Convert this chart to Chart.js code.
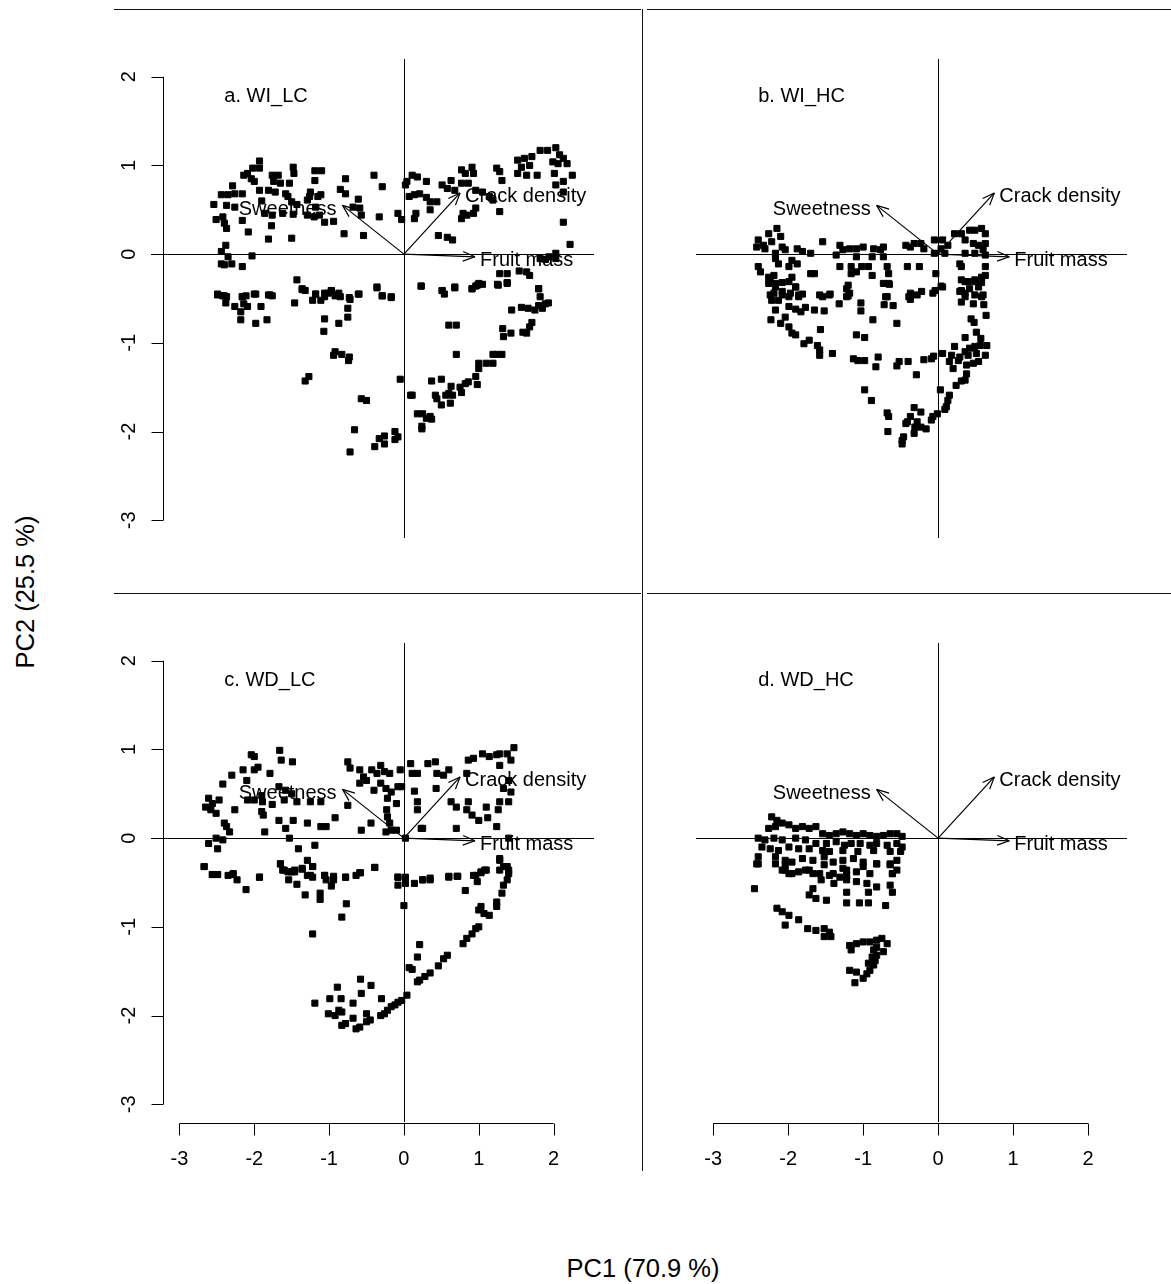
<!DOCTYPE html>
<html>
<head>
<meta charset="utf-8">
<script src="https://cdn.jsdelivr.net/npm/chart.js@4.4.1/dist/chart.umd.min.js"></script>
<style>
  body { margin: 0; background: #fff; width: 1171px; height: 1284px; position: relative; overflow: hidden;
         font-family: "Liberation Sans", Arial, sans-serif; }
  .panel { position: absolute; }
  .rule { position: absolute; background: #111; }
  .title { position: absolute; font-size: 25.5px; color: #000; white-space: nowrap; }
</style>
</head>
<body>

<!-- frame lines between the four panels -->
<div class="rule" style="left:114px;top:9px;width:527px;height:1px"></div>
<div class="rule" style="left:647px;top:9px;width:524px;height:1px"></div>
<div class="rule" style="left:642px;top:9px;width:1px;height:1162px"></div>
<div class="rule" style="left:114px;top:593px;width:527px;height:1px"></div>
<div class="rule" style="left:647px;top:593px;width:524px;height:1px"></div>

<div class="panel" style="left:100px;top:10px"><canvas id="pa" width="540" height="580"></canvas></div>
<div class="panel" style="left:645px;top:10px"><canvas id="pb" width="526" height="580"></canvas></div>
<div class="panel" style="left:100px;top:594px"><canvas id="pc" width="540" height="590"></canvas></div>
<div class="panel" style="left:645px;top:594px"><canvas id="pd" width="526" height="590"></canvas></div>

<div class="title" style="left:643px;top:1268px;transform:translate(-50%,-50%)">PC1 (70.9 %)</div>
<div class="title" style="left:25px;top:592px;transform:translate(-50%,-50%) rotate(-90deg)">PC2 (25.5 %)</div>

<script>
// tick labels
const xTicks = [-3, -2, -1, 0, 1, 2];
const yTicks = [-3, -2, -1, 0, 1, 2];

// variable loadings (arrows)
const variables = ['Sweetness', 'Crack density', 'Fruit mass'];
const loadPC1 = [-0.82, 0.75, 0.95];
const loadPC2 = [0.55, 0.69, -0.03];

// panel names
const panelNames = ['a. WI_LC', 'b. WI_HC', 'c. WD_LC', 'd. WD_HC'];

// scores [PC1, PC2]
const wiLc = [
  [-1.93,1.05],[-1.93,0.97],[-2.02,0.97],[-2.14,0.89],[-2.09,0.91],[-2.00,0.82],[-2.04,0.85],[-1.48,0.98],
  [-1.47,0.91],[-1.19,0.94],[-1.10,0.94],[-1.19,0.83],[-1.76,0.89],[-1.68,0.89],[-1.74,0.82],[-1.65,0.80],
  [-1.53,0.80],[-0.78,0.85],[-0.40,0.89],[-0.29,0.76],[-2.29,0.77],[-2.44,0.67],[-2.35,0.67],[-2.26,0.68],
  [-2.16,0.68],[-1.93,0.72],[-1.81,0.72],[-1.72,0.70],[-1.58,0.68],[-1.55,0.65],[-1.25,0.70],[-1.15,0.65],
  [-1.26,0.65],[-1.11,0.67],[-0.85,0.73],[-0.78,0.68],[-0.61,0.62],[-2.54,0.56],[-2.37,0.55],[-2.26,0.53],
  [-1.90,0.60],[-1.50,0.59],[-1.43,0.56],[-1.29,0.61],[-1.18,0.53],[-0.68,0.53],[-0.59,0.52],[-0.57,0.44],
  [-1.86,0.46],[-1.76,0.44],[-1.62,0.46],[-1.48,0.45],[-1.29,0.44],[-1.20,0.42],[-1.13,0.44],[-2.51,0.39],
  [-2.42,0.42],[-2.40,0.35],[-2.37,0.29],[-2.16,0.38],[-1.06,0.36],[-0.94,0.37],[-1.77,0.32],[-0.33,0.42],
  [-0.08,0.46],[-0.03,0.39],[-2.08,0.25],[-1.81,0.17],[-1.50,0.18],[-0.80,0.23],[-0.54,0.21],[0.46,0.21],
  [0.58,0.19],[0.65,0.16],[-2.38,0.10],[-2.44,0.03],[-2.35,-0.03],[-2.44,-0.11],[-2.40,-0.12],[-2.30,-0.11],
  [-2.16,-0.14],[-2.03,-0.02],
  [0.04,0.82],[0.11,0.89],[0.18,0.87],[0.30,0.82],[0.07,0.65],[0.14,0.67],[0.21,0.68],[0.30,0.64],
  [0.35,0.59],[0.44,0.59],[0.35,0.50],[0.16,0.46],[0.14,0.40],[0.02,0.78],[0.51,0.78],[0.63,0.83],
  [0.58,0.74],[0.68,0.72],[0.77,0.95],[0.82,0.91],[0.91,0.98],[0.93,0.91],[0.77,0.80],[0.86,0.80],
  [0.96,0.72],[1.05,0.70],[1.14,0.65],[1.19,0.61],[0.79,0.46],[0.77,0.40],[0.84,0.44],[0.96,0.52],
  [0.93,0.46],[1.28,0.48],[1.24,0.97],[1.28,0.93],[1.31,0.83],[1.52,1.06],[1.61,1.08],[1.71,1.10],
  [1.82,1.17],[1.92,1.17],[2.03,1.20],[2.08,1.12],[2.13,1.08],[2.18,1.02],[1.99,1.04],[2.06,1.02],
  [1.68,1.00],[1.57,0.98],[1.52,0.91],[1.64,0.89],[1.78,0.89],[2.01,0.91],[2.25,0.89],[2.13,0.82],
  [2.03,0.78],[2.13,0.70],[2.13,0.36],[2.22,0.11],[2.03,0.01],[1.94,-0.03],[1.89,-0.06],[1.82,-0.05],
  [2.03,-0.05],[1.28,-0.22],[1.38,-0.22],[1.54,-0.19],[1.64,-0.20],[1.68,-0.24],[1.80,-0.39],[1.00,-0.33],
  [0.96,-0.36],[0.91,-0.39],[1.26,-0.35],[1.38,-0.33],[0.68,-0.37],[0.51,-0.41],[0.23,-0.36],
  [-2.49,-0.45],[-2.40,-0.47],[-2.16,-0.48],[-2.00,-0.45],[-1.79,-0.46],[-1.43,-0.29],[-1.36,-0.39],[-1.18,-0.45],
  [-1.06,-0.44],[-0.97,-0.41],[-0.87,-0.44],[-0.73,-0.49],[-0.61,-0.45],[-0.36,-0.37],[-0.29,-0.47],[-0.17,-0.48],
  [-2.49,-0.46],[-2.42,-0.47],[-2.37,-0.48],[-2.38,-0.55],[-2.26,-0.59],[-2.18,-0.65],[-2.16,-0.48],[-2.11,-0.47],
  [-2.14,-0.56],[-2.09,-0.59],[-2.18,-0.74],[-1.98,-0.45],[-1.98,-0.78],[-1.91,-0.59],[-1.83,-0.74],[-1.81,-0.46],
  [-1.76,-0.47],[-1.46,-0.55],[-1.36,-0.40],[-1.32,-0.41],[-1.22,-0.52],[-1.18,-0.45],[-1.11,-0.52],[-1.06,-0.48],
  [-1.01,-0.44],[-0.97,-0.41],[-0.92,-0.47],[-0.85,-0.48],[-1.06,-0.73],[-1.07,-0.87],[-0.87,-0.78],[-0.75,-0.61],
  [-0.75,-0.71],[-0.72,-0.51],[-0.60,-0.45],[-0.36,-0.38],[-0.29,-0.47],[-0.17,-0.49],[0.23,-0.36],[0.51,-0.41],
  [0.54,-0.45],[0.68,-0.38],[0.91,-0.39],[0.98,-0.35],[1.05,-0.34],[1.25,-0.34],[1.38,-0.32],[1.80,-0.39],
  [1.82,-0.48],[1.80,-0.58],[1.89,-0.56],[1.93,-0.55],[1.85,-0.61],[1.75,-0.63],[1.66,-0.61],[1.57,-0.60],
  [1.44,-0.63],[1.32,-0.84],[1.33,-0.93],[1.43,-0.89],[1.59,-0.88],[1.64,-0.89],[1.68,-0.82],[1.71,-0.77],
  [0.60,-0.80],[0.70,-0.80],[0.70,-1.13],[1.19,-1.13],[1.24,-1.13],[1.31,-1.13],[1.00,-1.23],[1.00,-1.29],
  [1.10,-1.23],[1.19,-1.23],[0.96,-1.38],[0.86,-1.44],[0.82,-1.46],[0.98,-1.47],[0.75,-1.50],[0.77,-1.56],
  [0.63,-1.49],[0.60,-1.57],[0.65,-1.59],[0.56,-1.59],[0.62,-1.68],[0.50,-1.70],[0.42,-1.59],[0.44,-1.63],
  [0.37,-1.43],[0.50,-1.41],[0.09,-1.59],[0.11,-1.59],[-0.05,-1.41],[-0.94,-1.14],[-0.92,-1.10],[-0.83,-1.13],
  [-0.73,-1.16],[-0.74,-1.20],[-1.32,-1.43],[-1.27,-1.38],[-0.57,-1.63],[-0.50,-1.65],[0.18,-1.80],[0.25,-1.80],
  [0.35,-1.83],[0.37,-1.86],[0.30,-1.85],[0.24,-1.94],[0.24,-1.97],[-0.12,-2.00],[-0.08,-2.06],[-0.12,-2.09],
  [-0.26,-2.05],[-0.33,-2.08],[-0.26,-2.14],[-0.39,-2.17],[-0.66,-1.98],[-0.72,-2.23]
];

const wiHc = [
  [-2.15,0.29],[-2.26,0.23],[-2.40,0.16],[-2.33,0.10],[-2.22,0.14],[-2.10,0.20],[-2.08,0.08],[-2.04,0.05],
  [-2.17,0.01],[-2.31,0.06],[-2.42,0.08],[-1.88,0.06],[-1.81,0.03],[-1.70,0.01],[-1.54,0.14],[-2.17,-0.05],
  [-2.13,-0.11],[-1.95,-0.07],[-1.88,-0.11],[-2.40,-0.14],[-2.37,-0.20],[-2.26,-0.26],[-2.19,-0.24],[-1.99,-0.14],
  [-1.95,-0.26],[-2.26,-0.33],[-2.17,-0.37],[-2.08,-0.42],[-1.90,-0.37],[-2.24,-0.46],[-1.97,-0.44],[-1.86,-0.48],
  [-1.70,-0.22],[-1.65,-0.22],[-1.58,-0.46],[-1.45,-0.46],[-1.31,0.10],[-1.27,0.05],[-1.18,0.06],[-1.09,0.06],
  [-1.00,0.08],[-0.86,0.06],[-0.77,0.05],[-0.73,0.08],[-1.36,-0.01],[-1.09,-0.03],[-0.88,-0.03],[-0.73,-0.03],
  [-1.31,-0.14],[-1.16,-0.14],[-1.02,-0.14],[-0.93,-0.14],[-0.68,-0.14],[-1.16,-0.22],[-1.09,-0.20],[-0.88,-0.24],
  [-0.66,-0.22],[-0.66,-0.33],[-1.20,-0.35],[-1.18,-0.44],[-1.22,-0.48],[-0.68,-0.48],[-0.41,-0.14],[-0.25,-0.14],
  [-0.37,-0.48],[-0.28,-0.46],[-0.07,-0.44],[0.04,-0.36],[-0.43,0.10],[-0.37,0.08],[-0.32,0.12],[-0.23,0.12],
  [-0.19,0.06],[-0.05,0.16],[0.06,0.16],[0.13,0.10],[0.04,0.06],[-0.05,0.01],[0.22,0.23],[0.31,0.23],
  [0.36,0.16],[0.42,0.27],[0.49,0.27],[0.58,0.29],[0.63,0.23],[0.47,0.12],[0.54,0.10],[0.63,0.12],
  [0.60,0.05],[0.36,0.01],[0.49,0.01],[0.63,-0.01],[-0.03,-0.22],[0.09,0.01],[0.29,-0.11],[0.31,-0.14],
  [0.63,-0.14],[0.31,-0.29],[0.40,-0.31],[0.49,-0.29],[0.58,-0.26],[0.63,-0.24],[0.31,-0.41],[0.42,-0.39],
  [0.54,-0.37],[0.60,-0.46],[0.36,-0.48],
  [-2.24,-0.31],[-2.17,-0.33],[-2.08,-0.32],[-1.99,-0.31],[-1.90,-0.37],[-1.81,-0.45],[-1.86,-0.46],[-2.19,-0.44],
  [-2.08,-0.46],[-1.99,-0.48],[-2.22,-0.52],[-2.13,-0.52],[-1.54,-0.48],[-1.44,-0.45],[-1.22,-0.39],[-1.20,-0.47],
  [-1.32,-0.56],[-1.03,-0.55],[-1.03,-0.64],[-0.73,-0.33],[-0.65,-0.34],[-0.70,-0.48],[-0.72,-0.57],[-0.60,-0.58],
  [-0.37,-0.44],[-0.39,-0.48],[-0.37,-0.51],[-0.22,-0.42],[-0.04,-0.41],[0.06,-0.37],[0.36,-0.31],[0.49,-0.31],
  [0.58,-0.32],[0.29,-0.42],[0.36,-0.44],[0.49,-0.46],[0.58,-0.48],[0.31,-0.54],[0.47,-0.56],[0.61,-0.57],
  [0.64,-0.69],[0.44,-0.73],[0.48,-0.77],[0.51,-0.88],[0.36,-0.94],[0.57,-0.95],[-2.17,-0.63],[-1.99,-0.59],
  [-1.90,-0.62],[-1.83,-0.65],[-1.77,-0.60],[-1.65,-0.63],[-1.52,-0.64],[-2.23,-0.74],[-2.10,-0.78],[-2.04,-0.71],
  [-1.99,-0.82],[-1.95,-0.89],[-1.90,-0.91],[-1.79,-1.01],[-1.72,-0.97],[-1.61,-1.03],[-1.58,-1.08],[-1.58,-1.14],
  [-1.41,-1.12],[-1.57,-0.85],[-1.09,-0.91],[-0.98,-0.94],[-0.87,-0.74],[-0.55,-0.78],[-1.13,-1.18],[-1.07,-1.20],
  [-0.98,-1.20],[-0.80,-1.16],[-0.83,-1.27],[-0.55,-1.26],[-0.52,-1.21],[-0.40,-1.21],[-0.29,-1.36],[-0.19,-1.19],
  [-0.09,-1.18],[-0.06,-1.15],[0.06,-1.12],[0.22,-1.04],[0.36,-1.10],[0.42,-1.06],[0.49,-1.04],[0.56,-1.03],
  [0.65,-1.03],[0.18,-1.14],[0.29,-1.16],[0.40,-1.14],[0.51,-1.12],[0.63,-1.14],[0.15,-1.21],[0.27,-1.20],
  [0.20,-1.29],[0.38,-1.25],[0.47,-1.23],[0.54,-1.21],[0.38,-1.35],[0.36,-1.42],[0.31,-1.43],[0.24,-1.48],
  [0.03,-1.53],[0.15,-1.59],[0.13,-1.65],[0.11,-1.72],[0.09,-1.75],[-0.01,-1.80],[-0.09,-1.87],[-0.07,-1.83],
  [-0.16,-1.97],[-0.23,-1.78],[-0.32,-1.73],[-0.37,-1.83],[-0.41,-1.89],[-0.43,-1.91],[-0.28,-1.89],[-0.31,-1.95],
  [-0.23,-1.95],[-0.32,-2.02],[-0.46,-2.06],[-0.48,-2.14],[-0.48,-2.10],[-0.66,-1.83],[-0.68,-1.79],[-0.67,-2.00],
  [-0.98,-1.53],[-0.89,-1.65]
];

const wdLc = [
  [-2.04,0.94],[-2.00,0.92],[-1.66,0.99],[-1.64,0.88],[-1.49,0.86],[-2.15,0.77],[-2.10,0.65],[-2.00,0.77],
  [-1.95,0.80],[-1.79,0.73],[-2.30,0.71],[-2.42,0.61],[-1.67,0.58],[-1.58,0.54],[-1.50,0.50],[-1.90,0.48],
  [-2.09,0.43],[-2.00,0.43],[-1.89,0.41],[-1.76,0.38],[-1.60,0.43],[-1.43,0.41],[-1.25,0.41],[-1.11,0.41],
  [-2.61,0.45],[-2.56,0.39],[-2.65,0.35],[-2.58,0.32],[-2.51,0.28],[-2.47,0.43],[-2.26,0.32],[-1.90,0.30],
  [-1.88,0.26],[-1.67,0.20],[-1.48,0.20],[-1.29,0.17],[-1.11,0.13],[-1.04,0.13],[-0.92,0.23],[-0.75,0.37],
  [-2.40,0.17],[-2.37,0.13],[-2.33,0.07],[-1.86,0.07],[-1.58,0.11],[-2.61,-0.06],[-2.51,0.00],[-2.42,-0.02],
  [-2.49,-0.12],[-1.53,0.00],[-1.41,-0.12],[-1.19,-0.08],[-1.29,-0.25],[-1.22,-0.32],[-1.65,-0.29],[-1.62,-0.36],
  [-1.55,-0.38],[-1.46,-0.36],[-1.36,-0.34],[-2.67,-0.32],[-2.56,-0.41],[-2.49,-0.41],[-2.29,-0.41],[-1.93,-0.44],
  [-1.25,-0.42],[-1.06,-0.42],[-0.94,-0.43],[-0.78,-0.44],[-0.59,-0.39],[-0.39,-0.33],
  [-0.75,0.86],[-0.72,0.79],[-0.59,0.77],[-0.54,0.69],[-0.50,0.65],[-0.43,0.77],[-0.36,0.73],[-0.31,0.82],
  [-0.26,0.75],[-0.19,0.73],[-0.59,0.62],[-0.40,0.54],[-0.31,0.62],[-0.24,0.56],[-0.17,0.52],[-0.08,0.58],
  [-0.03,0.58],[-0.22,0.45],[-0.10,0.39],[-0.23,0.32],[-0.22,0.24],[-0.19,0.17],[-0.24,0.07],[-0.57,0.09],
  [-0.44,0.17],[-0.17,0.09],[-0.10,0.09],[-0.05,0.77],[0.09,0.84],[0.11,0.73],[0.18,0.73],[0.32,0.84],
  [0.42,0.86],[0.44,0.73],[0.53,0.71],[0.60,0.77],[0.43,0.56],[0.14,0.53],[0.18,0.41],[0.18,0.32],
  [0.23,0.11],[0.25,0.11],[0.63,0.41],[0.70,0.35],[0.70,0.11],[0.86,0.41],[0.84,0.32],[0.91,0.26],
  [1.00,0.20],[1.12,0.23],[1.24,0.13],[1.10,0.35],[1.26,0.32],[1.28,0.41],[0.84,0.73],[0.86,0.88],
  [0.93,0.90],[1.05,0.95],[1.14,0.92],[1.24,0.94],[1.28,0.95],[1.38,0.95],[1.47,1.02],[1.43,0.88],
  [1.28,0.82],[1.40,0.65],[1.33,0.56],[1.43,0.52],[1.40,0.41],[1.40,0.00],[1.28,-0.23],[1.33,-0.32],
  [1.40,-0.36],[1.10,-0.36],[1.03,-0.39],[0.96,-0.42],[0.72,-0.43],[0.60,-0.43],[0.35,-0.45],[0.25,-0.47],
  [0.02,-0.44],[-0.08,-0.44],[0.02,0.00],
  [-2.67,-0.32],[-2.56,-0.41],[-2.49,-0.41],[-2.35,-0.42],[-2.28,-0.40],[-2.23,-0.47],[-2.11,-0.58],[-1.93,-0.44],
  [-1.65,-0.29],[-1.60,-0.36],[-1.50,-0.38],[-1.46,-0.38],[-1.36,-0.35],[-1.29,-0.42],[-1.22,-0.32],[-1.22,-0.44],
  [-1.54,-0.47],[-1.43,-0.52],[-1.32,-0.64],[-1.12,-0.62],[-1.12,-0.69],[-1.06,-0.42],[-1.04,-0.47],[-0.94,-0.47],
  [-0.97,-0.54],[-0.78,-0.44],[-0.64,-0.42],[-0.58,-0.39],[-0.39,-0.33],[-0.77,-0.74],[-0.83,-0.89],[-1.22,-1.08],
  [-0.08,-0.44],[-0.08,-0.53],[0.02,-0.51],[0.14,-0.51],[0.25,-0.47],[0.35,-0.47],[0.60,-0.44],[0.71,-0.43],
  [0.82,-0.59],[0.93,-0.42],[0.98,-0.49],[1.03,-0.38],[1.08,-0.36],[1.28,-0.36],[1.28,-0.25],[1.38,-0.32],
  [1.40,-0.40],[1.38,-0.47],[1.33,-0.53],[1.31,-0.62],[1.24,-0.72],[1.24,-0.77],[1.14,-0.87],[1.07,-0.85],
  [1.00,-0.81],[1.03,-0.77],[1.00,-1.00],[0.96,-1.02],[0.91,-1.08],[0.84,-1.13],[0.79,-1.19],[0.58,-1.32],
  [0.53,-1.36],[0.46,-1.44],[0.35,-1.52],[0.28,-1.56],[0.21,-1.60],[0.18,-1.62],[0.07,-1.46],[0.11,-1.48],
  [0.18,-1.34],[0.21,-1.20],[0.00,-0.76],[0.04,-1.77],[-0.03,-1.83],[-0.08,-1.85],[-0.12,-1.88],[-0.17,-1.90],
  [-0.22,-1.94],[-0.26,-1.98],[-0.31,-2.00],[-0.45,-2.05],[-0.50,-2.07],[-0.59,-2.13],[-0.64,-2.15],[-0.50,-1.98],
  [-0.68,-2.03],[-0.78,-2.09],[-0.83,-2.11],[-0.92,-2.00],[-1.01,-1.98],[-0.87,-1.94],[-0.83,-1.96],[-0.68,-1.86],
  [-0.57,-1.75],[-0.58,-1.59],[-0.44,-1.66],[-0.30,-1.81],[-0.89,-1.68],[-0.84,-1.81],[-0.99,-1.81],[-1.19,-1.86]
];

const wdHc = [
  [-2.22,0.24],[-2.15,0.20],[-2.08,0.17],[-2.26,0.11],[-2.17,0.13],[-1.99,0.15],[-1.90,0.11],[-1.81,0.13],
  [-1.72,0.11],[-1.63,0.13],[-1.54,0.05],[-1.45,0.03],[-1.36,0.05],[-1.27,0.07],[-1.18,0.05],[-1.09,0.03],
  [-1.00,0.05],[-0.91,0.03],[-0.82,0.02],[-0.73,0.03],[-0.64,0.05],[-0.55,0.05],[-0.48,0.02],[-2.40,0.00],
  [-2.31,-0.02],[-2.19,0.00],[-2.08,-0.02],[-1.90,0.00],[-1.77,-0.02],[-1.63,-0.06],[-1.49,-0.06],[-1.36,-0.04],
  [-1.25,-0.08],[-1.16,-0.06],[-1.04,-0.06],[-0.91,-0.08],[-0.82,-0.06],[-0.68,-0.08],[-0.55,-0.06],[-0.48,-0.10],
  [-2.35,-0.10],[-2.24,-0.12],[-2.13,-0.14],[-1.99,-0.10],[-1.86,-0.12],[-1.72,-0.12],[-1.54,-0.14],[-1.45,-0.15],
  [-1.27,-0.14],[-1.07,-0.15],[-0.86,-0.14],[-0.64,-0.15],[-0.50,-0.15],[-2.40,-0.21],[-2.42,-0.29],[-2.17,-0.21],
  [-2.04,-0.25],[-1.95,-0.27],[-1.81,-0.23],[-1.67,-0.25],[-1.52,-0.21],[-1.40,-0.27],[-1.27,-0.25],[-1.13,-0.23],
  [-1.00,-0.27],[-0.82,-0.29],[-0.64,-0.29],[-0.55,-0.25],[-2.08,-0.36],[-1.99,-0.40],[-1.86,-0.38],[-1.72,-0.36],
  [-1.58,-0.40],[-1.45,-0.42],[-1.22,-0.36],[-1.09,-0.38],[-0.91,-0.40],[-0.61,-0.40],[-0.55,-0.36],[-1.31,-0.44],
  [-2.04,-0.30],
  [-2.40,-0.29],[-2.17,-0.29],[-2.04,-0.36],[-1.95,-0.40],[-1.77,-0.36],[-1.67,-0.40],[-1.52,-0.30],[-1.40,-0.40],
  [-1.27,-0.34],[-1.22,-0.42],[-1.00,-0.32],[-0.82,-0.29],[-0.64,-0.30],[-0.61,-0.40],[-1.56,-0.47],[-1.39,-0.51],
  [-1.22,-0.47],[-1.09,-0.49],[-0.95,-0.51],[-0.82,-0.55],[-0.64,-0.53],[-0.61,-0.61],[-2.45,-0.57],[-1.67,-0.57],
  [-1.72,-0.64],[-1.63,-0.68],[-1.49,-0.70],[-1.22,-0.61],[-1.22,-0.73],[-1.05,-0.73],[-0.93,-0.73],[-0.93,-0.61],
  [-0.70,-0.76],[-2.15,-0.79],[-2.08,-0.83],[-1.99,-0.87],[-2.04,-0.98],[-1.86,-0.92],[-1.74,-1.02],[-1.63,-1.04],
  [-1.52,-1.02],[-1.45,-1.06],[-1.43,-1.11],[-1.52,-1.11],[-1.18,-1.21],[-1.16,-1.26],[-1.09,-1.19],[-1.00,-1.17],
  [-0.91,-1.17],[-0.82,-1.15],[-0.75,-1.13],[-0.68,-1.19],[-0.73,-1.28],[-0.82,-1.32],[-0.84,-1.38],[-0.86,-1.43],
  [-0.91,-1.49],[-0.95,-1.53],[-1.00,-1.58],[-1.09,-1.51],[-1.18,-1.49],[-1.11,-1.63],[-0.82,-1.23],[-0.86,-1.26],
  [-0.88,-1.34],[-0.93,-1.41]
];

const FONT = '20px "Liberation Sans", Arial, sans-serif';

function seg(ctx, x0, y0, x1, y1) {
  ctx.beginPath();
  ctx.moveTo(x0, y0);
  ctx.lineTo(x1, y1);
  ctx.stroke();
}

const biplot = {
  id: 'biplot',
  beforeDatasetsDraw(chart, args, opts) {
    const ctx = chart.ctx;
    const xs = chart.scales.x, ys = chart.scales.y;
    const X = v => xs.getPixelForValue(v);
    const Y = v => ys.getPixelForValue(v);
    const r = v => Math.round(v) + 0.5;

    ctx.save();
    ctx.strokeStyle = '#000';
    ctx.fillStyle = '#000';
    ctx.lineWidth = 1;
    ctx.font = FONT;

    // zero lines
    seg(ctx, X(xs.min), r(Y(0)), X(xs.max), r(Y(0)));
    seg(ctx, r(X(0)), Y(ys.max), r(X(0)), Y(ys.min));

    // loading arrows
    const ox = X(0), oy = Y(0);
    variables.forEach((name, i) => {
      const tx = X(loadPC1[i]), ty = Y(loadPC2[i]);
      ctx.lineWidth = 1.2;
      seg(ctx, ox, oy, tx, ty);
      const ang = Math.atan2(ty - oy, tx - ox);
      const len = 13, spread = 0.38;
      seg(ctx, tx, ty, tx - len * Math.cos(ang - spread), ty - len * Math.sin(ang - spread));
      seg(ctx, tx, ty, tx - len * Math.cos(ang + spread), ty - len * Math.sin(ang + spread));
      ctx.textBaseline = 'middle';
      if (loadPC1[i] < 0) {
        ctx.textAlign = 'right';
        ctx.fillText(name, tx - 6, ty + 4);
      } else {
        ctx.textAlign = 'left';
        ctx.fillText(name, tx + 5, ty + 4);
      }
    });
    ctx.lineWidth = 1;

    // panel name
    ctx.textAlign = 'left';
    ctx.textBaseline = 'middle';
    ctx.fillText(opts.name, X(-2.40), Y(1.78));

    // left axis
    if (opts.yAxis) {
      const ax = r(X(-3.22));
      seg(ctx, ax, Y(yTicks[yTicks.length - 1]), ax, Y(yTicks[0]));
      yTicks.forEach(t => {
        const ty = r(Y(t));
        seg(ctx, ax, ty, ax - 12, ty);
        ctx.save();
        ctx.translate(ax - 34, Y(t));
        ctx.rotate(-Math.PI / 2);
        ctx.textAlign = 'center';
        ctx.textBaseline = 'middle';
        ctx.fillText(String(t), 0, 0);
        ctx.restore();
      });
    }

    // bottom axis
    if (opts.xAxis) {
      const ay = r(Y(ys.min)) + 1;
      seg(ctx, X(xTicks[0]), ay, X(xTicks[xTicks.length - 1]), ay);
      xTicks.forEach(t => {
        const tx = r(X(t));
        seg(ctx, tx, ay, tx, ay + 12);
        ctx.textAlign = 'center';
        ctx.textBaseline = 'middle';
        ctx.fillText(String(t), X(t), ay + 36);
      });
    }
    ctx.restore();
  }
};

function makePanel(id, points, name, xRange, pad, yAxis, xAxis) {
  return new Chart(document.getElementById(id), {
    type: 'scatter',
    data: {
      datasets: [{
        data: points,
        pointStyle: 'rect',
        pointRadius: 4.3,
        borderWidth: 1,
        backgroundColor: '#000',
        borderColor: '#000'
      }]
    },
    options: {
      responsive: false,
      animation: false,
      events: [],
      layout: { padding: pad },
      scales: {
        x: { type: 'linear', min: xRange[0], max: xRange[1], display: false },
        y: { type: 'linear', min: -3.2, max: 2.2, display: false }
      },
      plugins: {
        legend: { display: false },
        tooltip: { enabled: false },
        biplot: { name, yAxis, xAxis }
      }
    },
    plugins: [biplot]
  });
}

makePanel('pa', wiLc, panelNames[0], [-3.38, 2.54], { left: 51, right: 46, top: 49, bottom: 52 }, true, false);
makePanel('pb', wiHc, panelNames[1], [-3.23, 2.52], { left: 51, right: 44, top: 49, bottom: 52 }, false, false);
makePanel('pc', wdLc, panelNames[2], [-3.38, 2.54], { left: 51, right: 46, top: 49, bottom: 62 }, true, true);
makePanel('pd', wdHc, panelNames[3], [-3.23, 2.52], { left: 51, right: 44, top: 49, bottom: 62 }, false, true);
</script>
</body>
</html>
